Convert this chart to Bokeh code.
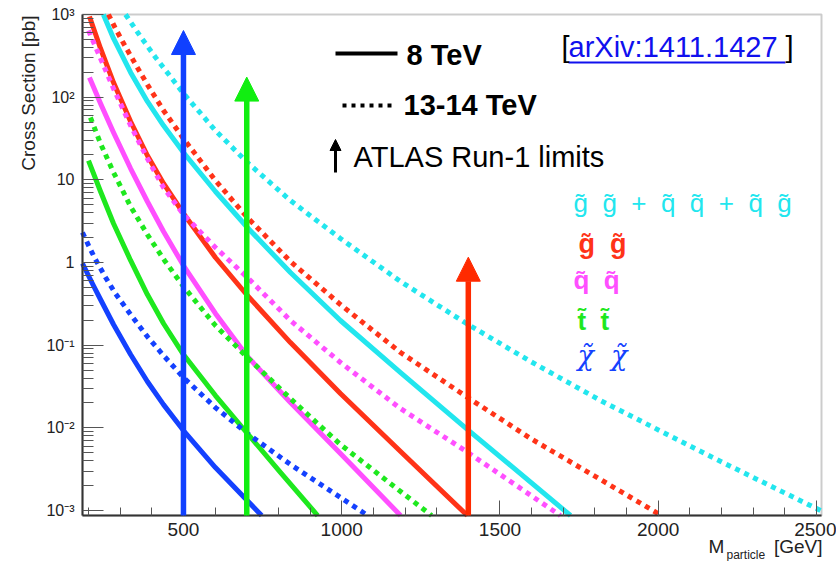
import math
from bokeh.plotting import figure
from bokeh.models import Label, Arrow, NormalHead, FixedTicker, Range1d, BoxAnnotation
from bokeh.embed import file_html
from bokeh.resources import INLINE

# ---------------- data ----------------
# gluino-gluino + squark-squark + squark-gluino (cyan)
m_all_8 = [247, 279, 333, 386, 437, 500, 601, 702, 838, 996, 1186, 1394, 1723]
s_all_8 = [1000, 513, 199, 88.7, 45.4, 21.4, 7.23, 2.65, 0.757, 0.199, 0.0467, 0.0098, 0.00087]
m_all_13 = [317, 364, 412, 500, 601, 702, 838, 996, 1186, 1394, 1597, 1818, 2166, 2513]
s_all_13 = [1000, 542, 302, 111, 39.5, 16.2, 5.62, 1.95, 0.589, 0.183, 0.0635, 0.0214, 0.0045, 0.001]
# gluino pair (red)
m_gg_8 = [203, 238, 279, 333, 386, 437, 500, 601, 702, 838, 996, 1186, 1397]
s_gg_8 = [946, 388, 150, 50.8, 19.7, 9.04, 3.92, 1.15, 0.399, 0.1076, 0.026, 0.00518, 0.00087]
m_gg_13 = [263, 285, 311, 349, 386, 437, 500, 601, 702, 838, 996, 1186, 1394, 1597, 1818, 2010]
s_gg_13 = [1000, 678, 446, 248, 142, 69, 31.6, 9.82, 3.50, 1.03, 0.310, 0.0815, 0.0239,
           0.00743, 0.00237, 0.00087]
# squark pair (magenta)
m_qq_8 = [203, 238, 279, 333, 386, 437, 500, 601, 702, 838, 996, 1186]
s_qq_8 = [173, 83.8, 37.4, 13.7, 5.47, 2.37, 0.92, 0.242, 0.073, 0.0203, 0.0049, 0.00087]
m_qq_13 = [200, 238, 279, 333, 386, 437, 500, 601, 702, 838, 996, 1186, 1394, 1691]
s_qq_13 = [640, 294, 127, 45.4, 18.1, 8.07, 3.81, 1.52, 0.659, 0.199, 0.0618, 0.0171,
           0.00518, 0.00087]
# stop pair (green)
m_tt_8 = [200, 238, 279, 333, 386, 437, 500, 601, 702, 807, 924]
s_tt_8 = [17.1, 7.23, 2.96, 1.06, 0.41, 0.183, 0.0771, 0.0246, 0.00855, 0.00288, 0.00087]
m_tt_13 = [206, 238, 279, 333, 386, 440, 500, 601, 702, 838, 996, 1186, 1284]
s_tt_13 = [56.8, 27.5, 12.3, 4.76, 2.18, 1.06, 0.513, 0.173, 0.0710, 0.0226, 0.00629,
           0.0017, 0.00087]
# chargino/neutralino (blue)
m_cn_8 = [181, 213, 238, 279, 333, 386, 437, 500, 601, 747]
s_cn_8 = [0.973, 0.55, 0.357, 0.178, 0.0771, 0.0364, 0.0191, 0.00929, 0.00331, 0.00087]
m_cn_13 = [181, 200, 222, 254, 285, 333, 386, 437, 500, 601, 702, 838, 996, 1082]
s_cn_13 = [2.31, 1.61, 1.09, 0.659, 0.422, 0.235, 0.127, 0.075, 0.0406, 0.0176, 0.00855,
           0.00361, 0.00144, 0.00087]

# ATLAS Run-1 limits (mass, arrow tip)
limit_mass = [500, 700, 1400]
limit_tip = [640, 175, 1.16]

x_ticks = [500, 1000, 1500, 2000, 2500]
y_ticks = [1e-3, 1e-2, 1e-1, 1, 10, 100, 1000]
y_tick_labels = ["10\u207b\u00b3", "10\u207b\u00b2", "10\u207b\u00b9", "1", "10", "10\u00b2", "10\u00b3"]

CYAN = "#22E6EE"
RED = "#FF3318"
MAG = "#FF4FFF"
GREEN = "#1EE81E"
BLUE = "#1441FF"

# axis box (data) and where it sits in the 836x561 picture (pixels)
X0, X1 = 181, 2516
YLO, YHI = 10 ** -3.06, 1000
FL, FR, FT, FB = 82, 821, 14, 515
W, H = 836, 561
GPP = (X1 - X0) / (FR - FL)          # GeV per pixel
DPP = (math.log10(YHI) - math.log10(YLO)) / (FB - FT)   # decades per pixel


def gx(px):
    return X0 + (px - FL) * GPP


def gy(py):
    return 10 ** (math.log10(YHI) - (py - FT) * DPP)


p = figure(width=W, height=H, x_range=Range1d(gx(0), gx(W)), y_range=Range1d(gy(H), gy(0)),
           y_axis_type="log", output_backend="svg", toolbar_location=None,
           min_border_left=0, min_border_right=0, min_border_top=0, min_border_bottom=0)
p.background_fill_color = "white"
p.border_fill_color = "white"
p.outline_line_color = None
p.xgrid.visible = False
p.ygrid.visible = False

FONT = "Liberation Sans"

xa = p.xaxis[0]
xa.fixed_location = YLO
xa.bounds = (X0, X1)
xa.ticker = FixedTicker(ticks=x_ticks, minor_ticks=list(range(200, 2501, 100)))
xa.major_tick_in = 15
xa.major_tick_out = 0
xa.minor_tick_in = 8
xa.minor_tick_out = 0
xa.major_tick_line_color = "#555555"
xa.minor_tick_line_color = "#555555"
xa.axis_line_color = "#333333"
xa.axis_line_width = 2
xa.major_label_text_font = FONT
xa.major_label_text_font_size = "19px"
xa.major_label_text_color = "#222222"
xa.major_label_standoff = 7

ya = p.yaxis[0]
ya.fixed_location = X0
ya.bounds = (YLO, YHI)
ya.ticker = FixedTicker(ticks=y_ticks,
                        minor_ticks=[m * 10 ** e for e in range(-3, 3) for m in range(2, 10)])
ya.major_label_overrides = {t: l for t, l in zip(y_ticks, y_tick_labels)}
ya.major_tick_in = 21
ya.major_tick_out = 0
ya.minor_tick_in = 11
ya.minor_tick_out = 0
ya.major_tick_line_color = "#555555"
ya.minor_tick_line_color = "#555555"
ya.axis_line_color = "#333333"
ya.axis_line_width = 2
ya.major_label_text_font = FONT
ya.major_label_text_font_size = "16px"
ya.major_label_text_color = "#222222"
ya.major_label_standoff = 8

# frame box (top / right edges)
p.add_layout(BoxAnnotation(left=X0, right=X1, bottom=YLO, top=YHI, fill_alpha=0,
                           line_color="#555555", line_width=2, level="underlay"))

# ---------------- curves ----------------
curves = [
    (m_all_8, s_all_8, CYAN, "solid"), (m_all_13, s_all_13, CYAN, "5 5"),
    (m_gg_8, s_gg_8, RED, "solid"), (m_gg_13, s_gg_13, RED, "5 5"),
    (m_qq_8, s_qq_8, MAG, "solid"), (m_qq_13, s_qq_13, MAG, "5 5"),
    (m_tt_8, s_tt_8, GREEN, "solid"), (m_tt_13, s_tt_13, GREEN, "5 5"),
    (m_cn_8, s_cn_8, BLUE, "solid"), (m_cn_13, s_cn_13, BLUE, "5 5"),
]
for m, s, c, d in curves:
    p.line(m, s, line_color=c, line_width=5, line_dash=d, line_cap="butt", line_join="round")

# ---------------- limit arrows ----------------
arrow_colors = ["#1040FF", "#11EE11", "#FF2A00"]
for m, tip, c in zip(limit_mass, limit_tip, arrow_colors):
    p.add_layout(Arrow(end=NormalHead(size=24, fill_color=c, line_color=c, line_width=1),
                       x_start=m, y_start=YLO, x_end=m, y_end=tip,
                       line_color=c, line_width=5.5))

# ---------------- legend block ----------------
p.line([gx(335), gx(397)], [gy(53), gy(53)], line_color="black", line_width=4)
p.line([gx(342), gx(396)], [gy(105), gy(105)], line_color="black", line_width=4,
       line_dash="4 5", line_cap="butt")
p.add_layout(Arrow(end=NormalHead(size=11, fill_color="black", line_color="black", line_width=1),
                   x_start=gx(335), y_start=gy(172), x_end=gx(335), y_end=gy(139),
                   line_color="black", line_width=3))


def lab(px, py_base, text, size, color="black", style="normal", align="left", font=FONT, angle=0.0):
    """py_base: baseline position (pixels) of the text in the reference."""
    off = 0.35 * size
    if angle == 0.0:
        x, y = gx(px), gy(py_base - off)
    else:  # rotated 90 deg: baseline is vertical, glyph tops point left
        x, y = gx(px - off), gy(py_base)
    p.add_layout(Label(x=x, y=y, text=text, text_font=font,
                       text_font_size=f"{size}px", text_color=color,
                       text_font_style=style, text_align=align,
                       text_baseline="middle", angle=angle))


lab(406, 65, "8 TeV", 29, style="bold")
lab(403, 115, "13-14 TeV", 29, style="bold")
lab(353, 167, "ATLAS Run-1 limits", 29)

# arXiv reference
LINK = "#1010EE"
lab(561, 57, "[", 29)
lab(568, 57, "arXiv:1411.1427", 29, color=LINK)
lab(793, 57, "]", 29, align="right")
p.line([gx(568), gx(785)], [gy(62), gy(62)], line_color=LINK, line_width=2)

# process labels
NB = "\u00a0\u00a0"
lab(573, 212, NB.join(["g\u0303", "g\u0303", "+", "q\u0303", "q\u0303", "+", "q\u0303", "g\u0303"]),
    26, color=CYAN)
lab(578, 253, "g\u0303" + NB + "g\u0303", 27, color=RED, style="bold")
lab(573, 289, "q\u0303" + NB + "q\u0303", 26, color=MAG, style="bold")
lab(577, 330, "t\u0303" + NB + "t\u0303", 26, color=GREEN, style="bold")
lab(577, 364, "\u03c7\u0303" + NB + "\u03c7\u0303", 27, color=BLUE, style="italic",
    font="DejaVu Serif")

# axis titles
lab(35, 15, "Cross Section [pb]", 19, color="#222222", align="right", angle=math.pi / 2)
lab(708, 553, "M", 19, color="#222222")
lab(726, 559, "particle", 12, color="#222222")
lab(822, 553, "[GeV]", 19, color="#222222", align="right")

open("out.html", "w").write(file_html(p, INLINE))
